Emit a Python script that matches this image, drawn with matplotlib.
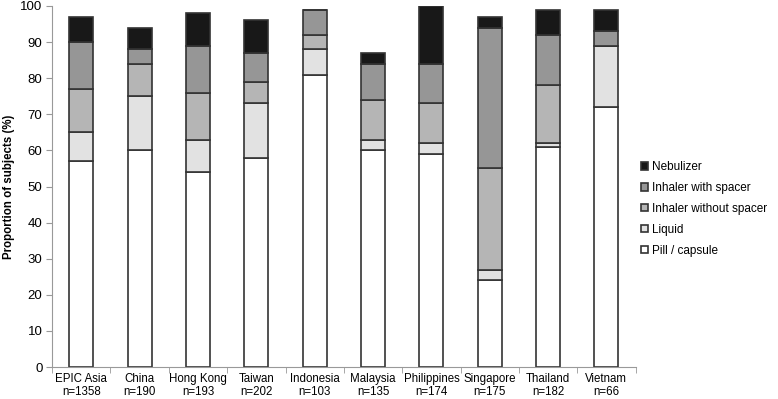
import matplotlib.pyplot as plt
import numpy as np

# data (percent of subjects)
countries = ['EPIC Asia\nn=1358', 'China\nn=190', 'Hong Kong\nn=193', 'Taiwan\nn=202',
             'Indonesia\nn=103', 'Malaysia\nn=135', 'Philippines\nn=174', 'Singapore\nn=175',
             'Thailand\nn=182', 'Vietnam\nn=66']
pill = [57, 60, 54, 58, 81, 60, 59, 24, 61, 72]
liquid = [8, 15, 9, 15, 7, 3, 3, 3, 1, 17]
inh_no_spacer = [12, 9, 13, 6, 4, 11, 11, 28, 16, 0]
inh_spacer = [13, 4, 13, 8, 7, 10, 11, 39, 14, 4]
nebulizer = [7, 6, 9, 9, 0, 3, 16, 3, 7, 6]

series = [('Pill / capsule', pill, '#ffffff'),
          ('Liquid', liquid, '#e2e2e2'),
          ('Inhaler without spacer', inh_no_spacer, '#b5b5b5'),
          ('Inhaler with spacer', inh_spacer, '#969696'),
          ('Nebulizer', nebulizer, '#181818')]

plt.rcParams['font.family'] = 'Liberation Sans'

fig = plt.figure(figsize=(7.78, 3.99), dpi=100)
ax = fig.add_axes([0.067, 0.080, 0.750, 0.905])

x = np.arange(len(countries))
bottom = np.zeros(len(countries))
handles = []
for name, vals, col in series:
    b = ax.bar(x, vals, 0.41, bottom=bottom, color=col, edgecolor='#333333',
               linewidth=1.2, label=name)
    handles.append(b)
    bottom += np.array(vals)

ax.set_xlim(-0.5, len(countries) - 0.5)
ax.set_ylim(0, 100)
ax.set_yticks(range(0, 101, 10))
ax.set_xticks(x)
ax.set_xticklabels(countries, fontsize=8.3, linespacing=1.1)
ax.set_xticks(np.arange(-0.5, len(countries), 1), minor=True)
ax.tick_params(axis='x', which='major', length=0, pad=4)
ax.tick_params(axis='x', which='minor', length=4, color='#999999')
ax.tick_params(axis='y', length=4, color='#999999', labelsize=9.5, pad=3)
for s in ['top', 'right']:
    ax.spines[s].set_visible(False)
for s in ['left', 'bottom']:
    ax.spines[s].set_color('#999999')
ax.set_ylabel('Proportion of subjects (%)', fontsize=8.3, fontweight='bold', labelpad=4)

leg = fig.legend(handles[::-1], [s[0] for s in series][::-1], loc='upper left',
                 bbox_to_anchor=(0.818, 0.608), frameon=False, fontsize=8.5,
                 handlelength=0.6, handleheight=0.6, handletextpad=0.3,
                 labelspacing=0.75, borderaxespad=0)

fig.savefig('out.png', dpi=100)
